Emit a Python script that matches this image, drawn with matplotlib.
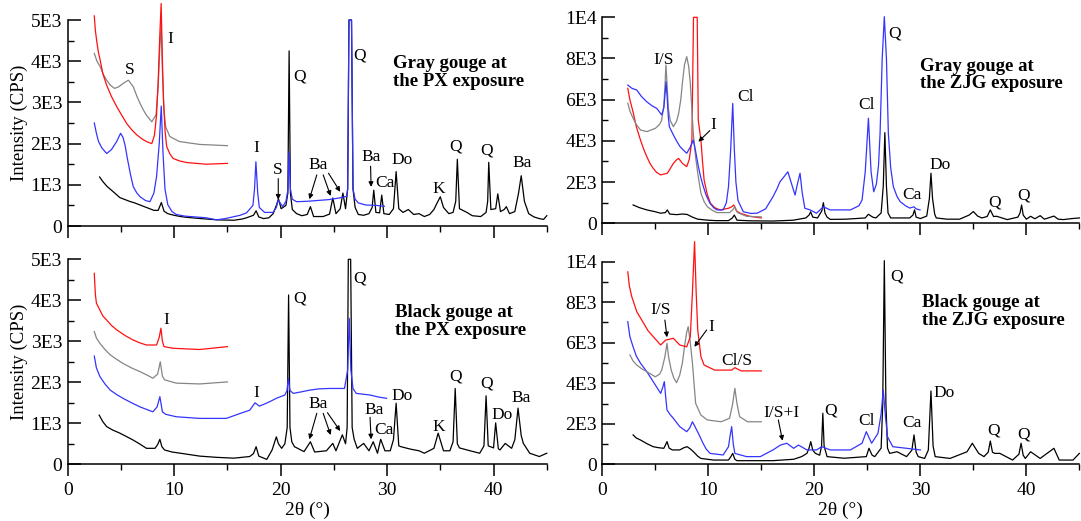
import matplotlib
matplotlib.use("Agg")
import matplotlib.pyplot as plt
from matplotlib.ticker import MultipleLocator, FixedLocator, FixedFormatter

plt.rcParams['font.family'] = ['Liberation Serif', 'DejaVu Serif']

# ---------------- diffraction traces: (2theta, counts per second) ----------------
# Gray gouge, PX exposure
gp_black = [(3.0,1190),(3.3,1080),(3.7,960),(4.2,850),(4.9,690),(5.4,640),(5.8,600),(6.3,560),(6.8,510),(7.2,470),(7.6,430),
            (8.1,380),(8.5,380),(8.8,570),(9.05,360),(9.4,300),(10.0,260),(10.6,230),(11.2,210),(12.5,180),(14.0,150),(15.6,140),
            (16.4,170),(16.8,200),(17.45,260),(17.7,370),(17.95,220),(18.4,180),(18.9,200),(19.3,300),(19.6,500),(19.8,660),
            (20.05,420),(20.5,500),(20.68,800),(20.8,4250),(20.92,800),(21.1,400),(21.5,300),(22.0,250),(22.5,280),(22.8,470),
            (23.1,230),(24.0,230),(24.6,290),(24.9,680),(25.2,300),(25.6,420),(25.85,800),(26.1,420),(26.3,900),(26.42,5000),
            (26.66,5000),(26.8,900),(27.0,450),(27.3,280),(27.8,260),(28.3,300),(28.6,450),(28.75,870),(28.95,330),(29.3,320),
            (29.5,750),(29.7,300),(30.2,280),(30.6,420),(30.85,1320),(31.1,420),(31.5,330),(32.0,400),(32.5,280),(33.0,300),
            (33.5,230),(34.0,280),(34.4,400),(34.7,560),(35.0,710),(35.3,450),(35.8,300),(36.2,330),(36.45,600),(36.6,1620),
            (36.8,420),(37.5,330),(38.0,250),(38.8,230),(39.3,330),(39.45,600),(39.55,1545),(39.75,400),(40.2,420),(40.4,780),
            (40.65,350),(41.0,400),(41.2,470),(41.5,300),(42.0,350),(42.35,800),(42.6,1220),(42.9,600),(43.3,300),(43.8,220),
            (44.3,180),(44.7,160),(45.0,250)]
gp_blue = [(2.5,2500),(2.7,2250),(2.9,2050),(3.2,1900),(3.66,1760),(4.1,1850),(4.6,2050),(4.97,2250),(5.2,2150),(5.4,1950),
           (5.6,1650),(5.9,1250),(6.16,955),(6.5,800),(6.8,710),(7.3,620),(7.73,590),(8.1,800),(8.35,1200),(8.6,2000),(8.79,2910),
           (8.95,1800),(9.14,900),(9.4,520),(9.8,350),(10.2,280),(11.0,240),(12.0,220),(13.0,200),(14.0,150),(14.8,180),
           (15.5,220),(16.2,260),(16.8,320),(17.4,500),(17.55,900),(17.68,1560),(17.85,800),(18.0,450),(18.5,330),(19.3,330),
           (19.6,450),(19.78,630),(20.2,470),(20.5,600),(20.7,900),(20.8,1800),(20.92,900),(21.1,650),(21.5,590),(22.5,600),
           (23.5,620),(24.5,640),(25.5,680),(26.2,720),(26.3,900),(26.42,5000),(26.66,5000),(26.8,900),(27.0,650),(27.3,560),
           (28.0,510),(29.0,500),(29.75,480)]
gp_red = [(2.5,5100),(2.6,4750),(2.75,4450),(2.9,4200),(3.05,4030),(3.3,3700),(3.66,3420),(4.1,3150),(4.6,2900),(5.1,2680),
          (5.54,2490),(6.0,2340),(6.5,2210),(7.0,2110),(7.4,2050),(7.9,2000),(8.15,2200),(8.35,2700),(8.5,3500),(8.65,4600),
          (8.78,5400),(8.9,4000),(9.0,3060),(9.15,2300),(9.3,1930),(9.6,1750),(9.9,1640),(10.5,1580),(11.2,1540),(13.0,1500),
          (15.0,1520)]
gp_gray = [(2.5,4190),(2.75,4000),(3.05,3870),(3.35,3680),(3.66,3540),(4.0,3420),(4.4,3340),(4.8,3380),(5.2,3460),(5.7,3540),
           (6.16,3380),(6.5,3150),(6.79,2980),(7.1,2820),(7.4,2690),(7.9,2530),(8.3,2700),(8.5,3400),(8.65,4300),(8.78,4870),
           (8.92,3600),(9.05,2800),(9.2,2410),(9.6,2170),(10.5,2050),(12.4,1980),(15.0,1950)]

# Gray gouge, ZJG exposure
gz_black = [(2.9,890),(3.5,760),(4.2,650),(5.0,560),(5.5,490),(5.95,520),(6.13,650),(6.35,450),(7.0,420),(7.55,450),(8.0,430),
            (8.5,300),(9.0,200),(10.0,150),(10.7,130),(11.9,130),(12.25,250),(12.45,400),(12.7,150),(14.0,120),(16.1,110),
            (18.0,150),(19.2,260),(19.5,400),(19.65,560),(19.85,300),(20.3,260),(20.7,600),(20.85,1000),(21.0,500),(21.2,300),
            (21.5,190),(23.0,200),(24.8,260),(25.1,440),(25.5,300),(25.8,260),(26.3,500),(26.5,1800),(26.65,4400),(26.8,1800),
            (26.95,500),(27.2,260),(28.1,260),(29.0,260),(29.3,400),(29.45,650),(29.6,300),(30.0,230),(30.6,350),(30.85,1200),
            (31.0,2430),(31.15,1200),(31.35,450),(31.5,260),(32.5,200),(33.7,200),(34.6,400),(35.0,570),(35.4,350),(35.8,260),
            (36.3,330),(36.6,650),(36.9,330),(37.2,340),(38.2,180),(39.2,300),(39.4,500),(39.55,890),(39.7,400),(40.0,200),
            (40.4,340),(40.8,220),(41.3,370),(41.7,200),(42.6,350),(43.0,200),(43.5,180),(44.3,230),(45.0,260)]
gz_blue = [(2.4,6710),(2.8,6550),(3.25,6470),(3.7,6150),(4.19,5900),(4.7,5700),(5.13,5580),(5.4,5400),(5.6,5260),(5.8,5600),
           (5.92,6300),(6.01,6870),(6.12,6100),(6.22,5200),(6.32,4690),(6.7,4290),(7.0,4000),(7.33,3720),(7.65,3550),(7.96,3400),
           (8.3,3700),(8.58,4040),(8.8,3500),(9.06,2750),(9.3,2200),(9.53,1780),(9.8,1350),(10.16,970),(10.5,760),(10.8,650),
           (11.4,650),(11.7,1000),(11.9,1780),(12.1,3500),(12.3,5820),(12.45,3600),(12.6,2000),(12.8,1100),(13.3,560),(14.0,480),
           (14.6,490),(15.4,700),(16.1,1290),(16.5,1700),(16.76,2020),(17.2,2300),(17.5,2500),(17.8,2000),(18.18,1370),(18.4,1900),
           (18.65,2430),(18.85,1500),(19.1,730),(19.6,650),(20.2,490),(20.85,800),(21.5,650),(23.4,650),(24.2,850),(24.5,1130),
           (24.8,2500),(25.1,5100),(25.35,2500),(25.6,1530),(25.85,1900),(26.05,2800),(26.2,4370),(26.4,8000),(26.6,10030),
           (26.8,8000),(26.98,4370),(27.2,2700),(27.45,1780),(27.8,1300),(28.1,1050),(28.6,850),(29.0,740),(29.4,800),(29.6,700),
           (29.97,650)]
gz_gray = [(2.4,5830),(2.6,5450),(2.9,5100),(3.2,4800),(3.6,4530),(4.2,4450),(5.0,4610),(5.4,4800),(5.6,5010),(5.8,5700),
           (5.92,6800),(6.0,7690),(6.1,6800),(6.22,5600),(6.4,5000),(6.7,4690),(7.0,4950),(7.2,5340),(7.4,6000),(7.55,6800),
           (7.75,7700),(7.96,8090),(8.15,7600),(8.3,6800),(8.45,5500),(8.58,4370),(8.8,3200),(9.0,2430),(9.3,1460),(9.6,1050),
           (9.9,810),(10.4,620),(10.8,520),(12.0,520),(12.3,650),(12.5,810),(12.75,520),(13.6,340),(15.0,310)]
gz_red = [(2.4,6550),(2.6,6000),(2.93,5340),(3.2,4700),(3.6,4040),(3.9,3600),(4.2,3230),(4.5,2900),(4.8,2670),(5.1,2480),
          (5.5,2350),(6.13,2430),(6.4,2650),(6.7,2910),(7.0,3080),(7.2,3150),(7.55,2910),(7.96,2750),(8.2,3100),(8.45,4040),
          (8.6,10000),(8.95,10000),(9.05,5000),(9.3,4040),(9.45,3000),(9.6,2100),(9.9,1400),(10.2,970),(10.6,760),(11.1,650),
          (11.9,730),(12.2,800),(12.4,890),(12.65,600),(13.0,490),(13.9,340),(15.0,260)]

# Black gouge, PX exposure
bp_black = [(2.96,1200),(3.3,1040),(3.66,920),(4.2,840),(4.9,760),(5.5,680),(6.16,590),(6.8,490),(7.4,390),(8.2,390),(8.45,480),
            (8.66,610),(8.85,430),(9.1,350),(9.8,300),(10.6,270),(12.4,200),(14.0,170),(15.6,150),(17.1,190),(17.45,260),
            (17.7,430),(17.95,200),(18.7,120),(19.2,350),(19.45,550),(19.6,670),(19.8,500),(20.1,390),(20.4,500),(20.62,900),
            (20.75,4130),(20.88,900),(21.05,550),(21.3,430),(22.2,310),(22.8,550),(23.2,300),(24.3,330),(24.9,510),(25.2,330),
            (25.8,720),(26.1,500),(26.25,900),(26.36,5000),(26.58,5000),(26.72,900),(26.9,620),(27.2,390),(27.8,510),(28.3,330),
            (28.7,550),(29.1,270),(29.4,610),(29.8,330),(30.3,330),(30.6,600),(30.85,1490),(31.1,450),(31.3,430),(32.2,370),
            (33.0,330),(33.5,270),(34.4,390),(34.8,760),(35.3,330),(35.9,330),(36.2,550),(36.4,1850),(36.6,500),(36.8,400),
            (37.8,330),(38.7,270),(39.1,450),(39.3,1670),(39.5,450),(40.0,400),(40.2,1010),(40.45,380),(40.6,350),(41.1,510),
            (41.7,390),(42.0,600),(42.3,1370),(42.6,700),(42.8,510),(43.4,270),(44.3,190),(45.0,270)]
bp_blue = [(2.5,2640),(2.7,2350),(3.03,2140),(3.5,1960),(4.0,1810),(4.6,1700),(5.2,1610),(6.0,1500),(6.8,1400),(7.5,1330),
           (8.0,1280),(8.4,1400),(8.66,1650),(8.9,1280),(9.2,1220),(10.2,1160),(12.4,1120),(14.9,1120),(16.2,1240),(17.1,1320),
           (17.6,1500),(18.0,1420),(18.4,1460),(19.0,1530),(19.6,1610),(20.4,1690),(20.6,1800),(20.72,2100),(20.88,1800),
           (21.2,1730),(22.0,1770),(22.75,1810),(23.6,1840),(24.6,1850),(26.0,1850),(26.3,2300),(26.45,3560),(26.6,2300),
           (26.8,1850),(27.1,1730),(28.4,1690),(29.2,1640),(29.95,1610)]
bp_gray = [(2.5,3240),(2.7,3080),(3.03,2950),(3.5,2800),(4.0,2670),(4.6,2560),(5.2,2460),(6.0,2350),(6.8,2260),(7.5,2170),
           (8.0,2100),(8.45,2200),(8.7,2500),(8.9,2150),(9.1,2060),(10.2,1980),(12.4,1960),(15.0,2010)]
bp_red = [(2.5,4660),(2.6,4150),(2.7,3930),(3.03,3760),(3.3,3620),(3.66,3520),(4.1,3390),(4.6,3280),(5.4,3140),(6.16,3030),
          (6.8,2960),(7.4,2910),(8.35,2910),(8.6,3100),(8.76,3320),(8.9,3000),(9.05,2870),(9.9,2830),(12.4,2800),(15.0,2870)]

# Black gouge, ZJG exposure
bz_black = [(2.9,1450),(3.2,1300),(3.6,1200),(4.2,1020),(4.8,870),(5.3,820),(5.8,790),(5.95,950),(6.1,1120),(6.3,800),
            (6.6,710),(7.3,710),(7.7,820),(8.0,870),(8.3,760),(8.6,620),(9.0,400),(9.3,290),(10.5,210),(11.9,210),(12.15,400),
            (12.3,540),(12.5,250),(12.7,180),(16.1,180),(18.05,250),(18.8,380),(19.3,540),(19.5,800),(19.66,1120),(19.85,700),
            (20.1,540),(20.5,450),(20.68,900),(20.8,2520),(20.92,900),(21.2,380),(22.8,300),(24.9,380),(25.15,790),(25.45,450),
            (25.7,380),(26.3,800),(26.45,3000),(26.6,10050),(26.75,3000),(26.9,800),(27.1,540),(27.8,620),(28.7,380),(29.2,700),
            (29.4,1450),(29.6,600),(29.8,380),(30.4,290),(30.75,700),(31.0,3620),(31.2,900),(31.4,380),(32.8,290),(34.4,620),
            (34.9,1040),(35.5,540),(36.0,380),(36.4,600),(36.6,1150),(36.8,600),(37.0,540),(37.5,540),(38.7,210),(39.3,500),
            (39.5,1040),(39.7,450),(39.9,290),(40.4,620),(41.3,290),(42.6,790),(43.1,210),(44.4,210),(45.0,540)]
bz_blue = [(2.4,7040),(2.6,6300),(2.9,5800),(3.2,5350),(3.6,4990),(4.2,4570),(4.8,4080),(5.2,3750),(5.5,3500),(5.7,3800),
           (5.85,4080),(5.98,3300),(6.1,2680),(6.4,2450),(6.7,2270),(7.3,1860),(7.96,1610),(8.25,1800),(8.5,2100),(8.75,1850),
           (9.06,1530),(9.5,1040),(9.8,750),(10.16,540),(11.4,460),(11.9,870),(12.05,1400),(12.2,1860),(12.35,1000),(12.5,540),
           (13.6,380),(14.9,380),(16.1,710),(16.8,950),(17.4,1040),(18.05,790),(18.5,950),(19.3,710),(20.2,710),(20.7,870),
           (21.5,710),(23.4,710),(24.5,1040),(24.9,1610),(25.4,1040),(26.0,1530),(26.3,2500),(26.5,3670),(26.7,2400),
           (26.9,1360),(27.4,870),(28.7,790),(30.0,710)]
bz_gray = [(2.6,5400),(2.9,5100),(3.25,4900),(3.7,4720),(4.2,4570),(5.0,4320),(5.4,4450),(5.6,4650),(5.9,5300),(6.1,5970),
           (6.25,5300),(6.5,4650),(6.75,4250),(7.0,4030),(7.3,4400),(7.55,5000),(7.75,5800),(7.95,6500),(8.1,6790),(8.3,6000),
           (8.5,4990),(8.8,3010),(9.3,2430),(9.9,2190),(11.2,2100),(12.0,2270),(12.3,3000),(12.5,3750),(12.7,3000),
           (12.95,2350),(13.7,2100),(15.0,2100)]
bz_red = [(2.4,9500),(2.55,8800),(2.78,8270),(3.25,7530),(3.9,6960),(4.3,6600),(4.8,6300),(5.5,5890),(5.97,6130),(6.7,6220),
          (7.3,5890),(7.96,5800),(8.3,6300),(8.5,8500),(8.7,10990),(8.85,8500),(9.0,6630),(9.3,5310),(9.6,4900),(10.6,4650),
          (12.2,4650),(12.5,4770),(13.1,4610),(15.0,4610)]

# ---------------- phase labels: (text, 2theta, cps) ----------------
gp_labels = [("I", 9.6, 4540), ("S", 5.85, 3790), ("I", 17.7, 1890), ("S", 19.7, 1360), ("Q", 21.8, 3620),
             ("Q", 27.4, 4150), ("Ba", 23.5, 1480), ("Ba", 28.5, 1680), ("Ca", 29.8, 1050), ("Do", 31.4, 1600),
             ("K", 34.9, 900), ("Q", 36.4, 1930), ("Q", 39.3, 1830), ("Ba", 42.7, 1520)]
gp_arrows = [(19.78, 1150, 19.78, 640), (23.4, 1240, 22.7, 650), (24.0, 1240, 24.7, 730),
             (24.5, 1280, 25.6, 830), (28.45, 1450, 28.5, 950)]
gz_labels = [("I/S", 5.75, 7930), ("I", 10.5, 4770), ("Cl", 13.5, 6150), ("Cl", 24.9, 5740), ("Q", 27.6, 9220),
             ("Ca", 29.2, 1370), ("Do", 31.9, 2830), ("Q", 37.0, 1000), ("Q", 39.7, 1370)]
gz_arrows = [(10.14, 4500, 9.06, 3960)]
bp_labels = [("I", 9.3, 3520), ("I", 17.75, 1730), ("Q", 21.8, 4050), ("Q", 27.4, 4540), ("Ba", 23.5, 1470),
             ("Ba", 28.8, 1320), ("Ca", 29.7, 840), ("Do", 31.4, 1670), ("K", 34.9, 920), ("Q", 36.4, 2140),
             ("Q", 39.3, 1980), ("Do", 40.8, 1200), ("Ba", 42.6, 1610)]
bp_arrows = [(23.4, 1244, 22.7, 610), (24.0, 1244, 24.7, 715), (24.4, 1259, 25.6, 812), (28.4, 1146, 28.5, 610)]
bz_labels = [("I/S", 5.5, 7620), ("I", 10.25, 6790), ("Cl/S", 12.7, 5110), ("I/S+I", 16.85, 2520), ("Q", 21.5, 2680),
             ("Cl", 24.9, 2150), ("Q", 27.8, 9260), ("Ca", 29.2, 2020), ("Do", 32.2, 3540), ("Q", 36.9, 1690),
             ("Q", 39.7, 1450)]
bz_arrows = [(5.9, 7120, 6.1, 6270), (9.84, 6630, 8.68, 5800), (16.6, 2190, 17.0, 1165)]

titles = ["Gray gouge at\nthe PX exposure", "Gray gouge at\nthe ZJG exposure",
          "Black gouge at\nthe PX exposure", "Black gouge at\nthe ZJG exposure"]
title_pos = [(30.6, 3720), (30.0, 7200), (30.7, 3480), (30.2, 7530)]

left_ticklabels = ["0", "1E3", "2E3", "3E3", "4E3", "5E3"]
right_ticklabels = ["0", "2E3", "4E3", "6E3", "8E3", "1E4"]

BLACK, BLUE, GRAY, RED = "#000000", "#3434ff", "#858585", "#ff1010"

fig = plt.figure(figsize=(10.81, 5.21), dpi=100)
ax_gp = fig.add_axes([0.0626, 0.5662, 0.4432, 0.3954])
ax_gz = fig.add_axes([0.5572, 0.5714, 0.4413, 0.3954])
ax_bp = fig.add_axes([0.0626, 0.1088, 0.4432, 0.3935])
ax_bz = fig.add_axes([0.5572, 0.1088, 0.4413, 0.3889])

panels = [
    (ax_gp, [(gp_black, BLACK), (gp_blue, BLUE), (gp_gray, GRAY), (gp_red, RED)], gp_labels, gp_arrows, 5000, left_ticklabels),
    (ax_gz, [(gz_black, BLACK), (gz_red, RED), (gz_gray, GRAY), (gz_blue, BLUE)], gz_labels, gz_arrows, 10000, right_ticklabels),
    (ax_bp, [(bp_black, BLACK), (bp_blue, BLUE), (bp_gray, GRAY), (bp_red, RED)], bp_labels, bp_arrows, 5000, left_ticklabels),
    (ax_bz, [(bz_black, BLACK), (bz_blue, BLUE), (bz_gray, GRAY), (bz_red, RED)], bz_labels, bz_arrows, 10000, right_ticklabels),
]

for i, (ax, traces, labels, arrows, ymax, yticklabels) in enumerate(panels):
    for pts, col in traces:
        xs = [p[0] for p in pts]
        ys = [p[1] for p in pts]
        ax.plot(xs, ys, color=col, lw=0.9, clip_on=False, solid_joinstyle="round")
    for txt, x, y in labels:
        ax.text(x, y, txt, ha="center", va="center", fontsize=12.5)
    for x0, y0, x1, y1 in arrows:
        ax.annotate("", xy=(x1, y1), xytext=(x0, y0),
                    arrowprops=dict(arrowstyle="-|>", color="black", lw=0.8,
                                    mutation_scale=7, shrinkA=0, shrinkB=0))
    tx, ty = title_pos[i]
    ax.text(tx, ty, titles[i], ha="left", va="center", fontsize=13.5,
            fontweight="bold", linespacing=1.05)

    ax.set_xlim(0, 45)
    ax.set_ylim(0, ymax)
    for s in ("top", "right"):
        ax.spines[s].set_visible(False)
    for s in ("left", "bottom"):
        ax.spines[s].set_linewidth(1.1)
    ax.xaxis.set_major_locator(MultipleLocator(10))
    ax.xaxis.set_minor_locator(MultipleLocator(5))
    step = ymax / 5
    ax.yaxis.set_major_locator(FixedLocator([k * step for k in range(6)]))
    ax.yaxis.set_major_formatter(FixedFormatter(yticklabels))
    ax.yaxis.set_minor_locator(MultipleLocator(step / 2))
    ax.tick_params(axis="y", which="major", direction="in", length=9, width=1.1, labelsize=14, pad=4)
    ax.tick_params(axis="y", which="minor", direction="in", length=4.5, width=1.0)
    ax.tick_params(axis="x", which="major", direction="out", length=8.5, width=1.1, labelsize=14, pad=4)
    ax.tick_params(axis="x", which="minor", direction="out", length=4.5, width=1.0)
    if i < 2:
        ax.tick_params(axis="x", labelbottom=False)
    else:
        ax.set_xlabel("2θ (°)", fontsize=14, labelpad=2)
    if i % 2 == 0:
        ax.set_ylabel("Intensity (CPS)", fontsize=13.5, labelpad=2)

fig.savefig("out.png", dpi=100)
